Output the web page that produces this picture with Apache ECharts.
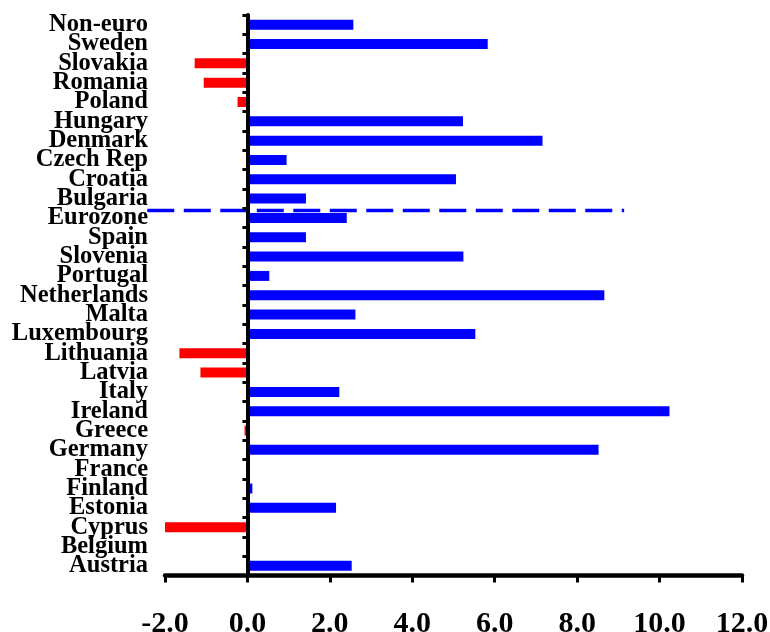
<!DOCTYPE html>
<html>
<head>
<meta charset="utf-8">
<script src="https://cdn.jsdelivr.net/npm/echarts@6/dist/echarts.min.js"></script>
<style>html,body{margin:0;padding:0;background:#fff;}#c{width:770px;height:632px;}</style>
</head>
<body>
<div id="c"></div>
<script>
// categories listed bottom to top
var categories = ['Austria','Belgium','Cyprus','Estonia','Finland','France','Germany','Greece','Ireland','Italy','Latvia','Lithuania','Luxembourg','Malta','Netherlands','Portugal','Slovenia','Spain','Eurozone','Bulgaria','Croatia','Czech Rep','Denmark','Hungary','Poland','Romania','Slovakia','Sweden','Non-euro'];
var values = [2.53, 0, -2.09, 2.15, 0.12, 0, 8.52, -0.07, 10.24, 2.23, -1.14, -1.65, 5.53, 2.62, 8.66, 0.53, 5.24, 1.42, 2.41, 1.42, 5.06, 0.95, 7.16, 5.23, -0.24, -1.06, -1.28, 5.83, 2.57];
var xTicks = [-2, 0, 2, 4, 6, 8, 10, 12];
// separator between euro and non-euro groups (value span and category level)
var dividerSpan = [-2.43, 9.14];
var dividerLevel = 18.88;

var font = '"Liberation Serif", "Times New Roman", serif';
var chart = echarts.init(document.getElementById('c'), null, {renderer: 'canvas'});
chart.setOption({
  animation: false,
  backgroundColor: '#fff',
  grid: {left: 165, right: 28, top: 15, bottom: 56.5, containLabel: false, outerBoundsMode: 'none'},
  xAxis: {
    type: 'value',
    min: xTicks[0], max: xTicks[xTicks.length - 1], interval: 2,
    z: 5,
    axisLine: {show: true, onZero: false, lineStyle: {color: '#000', width: 4.5}},
    axisTick: {show: true, length: 7, lineStyle: {color: '#000', width: 3}},
    splitLine: {show: false},
    axisLabel: {
      color: '#000', fontFamily: font, fontWeight: 'bold', fontSize: 30, margin: 34,
      formatter: function (v) { return v.toFixed(1); }
    }
  },
  yAxis: [
    {
      type: 'category', data: categories, position: 'left',
      axisLine: {show: false, onZero: false}, axisTick: {show: false},
      axisLabel: {color: '#000', fontFamily: font, fontWeight: 'bold', fontSize: 24.5, margin: 17, interval: 0}
    },
    {
      type: 'category', data: categories, position: 'left', z: 5,
      axisLine: {show: true, onZero: true, onZeroAxisIndex: 0, lineStyle: {color: '#000', width: 4}},
      axisTick: {show: true, length: 5, interval: 0, lineStyle: {color: '#000', width: 3}},
      axisLabel: {show: false}
    },
    {
      type: 'value', min: 0, max: categories.length, show: false
    }
  ],
  series: [
    {
      type: 'bar', yAxisIndex: 0, barWidth: 10,
      data: values,
      itemStyle: {color: function (p) { return p.value < 0 ? '#FF0000' : '#0000FF'; }},
      z: 1
    }
  ]
});
// dashed separator, positioned through the chart's own scales
var finder = {xAxisIndex: 0, yAxisIndex: 2};
var p0 = chart.convertToPixel(finder, [dividerSpan[0], dividerLevel]);
var p1 = chart.convertToPixel(finder, [dividerSpan[1], dividerLevel]);
chart.setOption({
  graphic: [{
    type: 'line', z: 1, silent: true,
    shape: {x1: p0[0], y1: p0[1], x2: p1[0], y2: p1[1]},
    style: {stroke: '#0000FF', lineWidth: 3.5, lineDash: [27, 9.5], lineCap: 'butt'}
  }]
});
</script>
</body>
</html>
